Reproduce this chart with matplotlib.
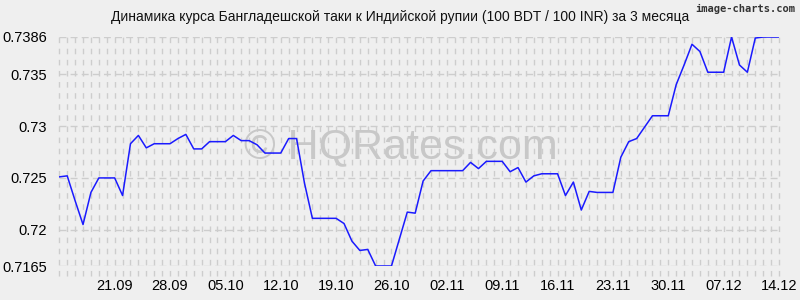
import matplotlib
matplotlib.use("Agg")
import matplotlib.pyplot as plt
import matplotlib.dates as mdates
import pandas as pd

# daily rate, 100 BDT / 100 INR, 14.09 - 14.12
start_date = "2023-09-14"
rates = [0.7251, 0.7252, 0.7228, 0.7205, 0.7236, 0.7250, 0.7250, 0.7250, 0.7233, 0.7283,
         0.7291, 0.7279, 0.7283, 0.7283, 0.7283, 0.7288, 0.7292, 0.7278, 0.7278, 0.7285,
         0.7285, 0.7285, 0.7291, 0.7286, 0.7286, 0.7282, 0.7274, 0.7274, 0.7274, 0.7288,
         0.7288, 0.7245, 0.7211, 0.7211, 0.7211, 0.7211, 0.7206, 0.7189, 0.7180, 0.7181,
         0.7165, 0.7165, 0.7165, 0.7191, 0.7217, 0.7216, 0.7247, 0.7257, 0.7257, 0.7257,
         0.7257, 0.7257, 0.7265, 0.7259, 0.7266, 0.7266, 0.7266, 0.7256, 0.7260, 0.7246,
         0.7252, 0.7254, 0.7254, 0.7254, 0.7233, 0.7246, 0.7219, 0.7237, 0.7236, 0.7236,
         0.7236, 0.7270, 0.7285, 0.7288, 0.7299, 0.7310, 0.7310, 0.7310, 0.7340, 0.7359,
         0.7379, 0.7372, 0.7352, 0.7352, 0.7352, 0.7386, 0.7359, 0.7352, 0.7385, 0.7386,
         0.7386, 0.7386]
y_ticks = [0.7165, 0.72, 0.725, 0.73, 0.735, 0.7386]
y_labels = ["0.7165", "0.72", "0.725", "0.73", "0.735", "0.7386"]

dates = pd.date_range(start_date, periods=len(rates), freq="D")

plt.rcParams['font.family'] = ['Liberation Sans', 'DejaVu Sans']
bg = '#efefef'
grid_c = '#cdcdcd'

fig = plt.figure(figsize=(8, 3), dpi=100, facecolor=bg)
ax = fig.add_axes([59.3/800, 1-266/300, (779-59.3)/800, (266-37)/300])
ax.set_facecolor(bg)

# vertical dashed grid, one line per day (runs a bit below the axis)
ax.vlines(dates, -0.045, 1, transform=ax.get_xaxis_transform(), clip_on=False,
          color=grid_c, lw=1, linestyles=(0, (4, 4)), zorder=1)
# horizontal grid at the y ticks
for v in y_ticks:
    ax.axhline(v, color=grid_c, lw=1, dashes=(5, 3), zorder=1)

ax.plot(dates, rates, color='#1a1aff', lw=1.1, zorder=3)

ax.set_xlim(dates[0], dates[-1])
ax.set_ylim(0.7165, 0.7386)
ax.set_yticks(y_ticks)
ax.set_yticklabels(y_labels, fontsize=10.5)
ax.set_xticks(dates[7::7])
ax.xaxis.set_major_formatter(mdates.DateFormatter('%d.%m'))
ax.tick_params(length=0, labelsize=10.5, pad=9)
ax.tick_params(axis='x', pad=9)
for s in ax.spines.values():
    s.set_visible(False)

# watermark
ax.text(0.475, 0.52, "© HQRates.com", transform=ax.transAxes, ha='center', va='center',
        fontsize=31, color='#c8c8c8', zorder=2)

fig.text(0.5, 1-17/300, "Динамика курса Бангладешской таки к Индийской рупии (100 BDT / 100 INR) за 3 месяца",
         ha='center', va='center', fontsize=10, color='#111111')
fig.text(795/800, 1-9/300, "image-charts.com", ha='right', va='center', fontsize=7.5,
         color='#333333', family='DejaVu Sans Mono', weight='bold')

plt.savefig("out.png", dpi=100, facecolor=bg)
